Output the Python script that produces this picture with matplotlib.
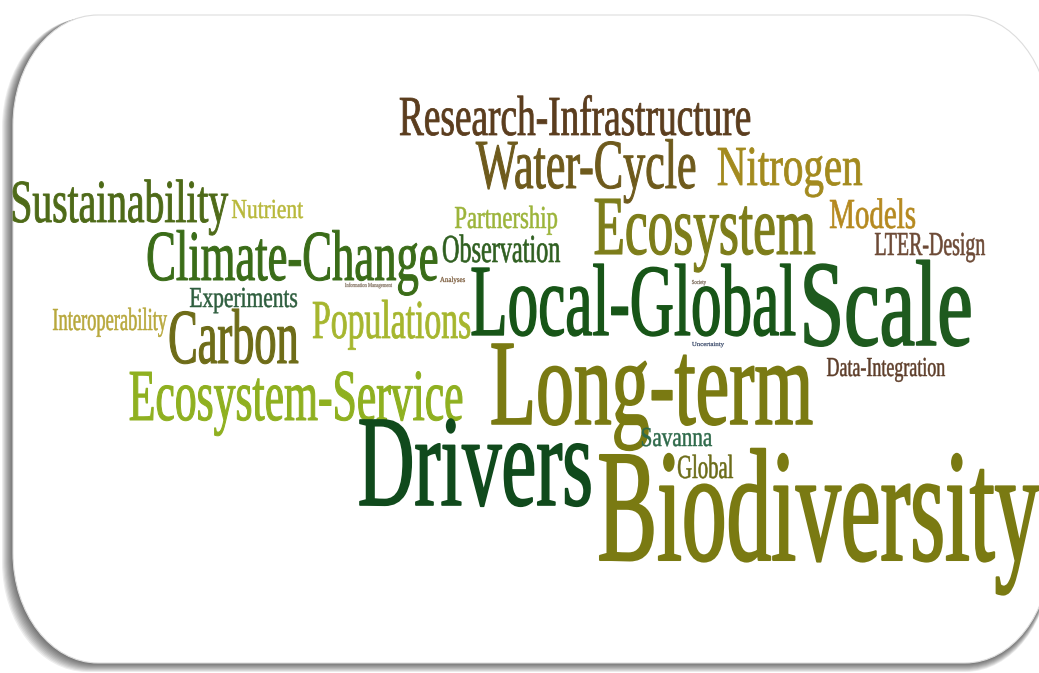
import matplotlib
matplotlib.use("Agg")
import matplotlib.pyplot as plt
from matplotlib.textpath import TextPath
from matplotlib.font_manager import FontProperties
from matplotlib.patches import PathPatch
from matplotlib.path import Path
from matplotlib.transforms import Affine2D

# ---- data: words and their weights (relative size) ----
words = ["Research-Infrastructure", "Water-Cycle", "Nitrogen", "Sustainability", "Nutrient",
         "Partnership", "Ecosystem", "Models", "LTER-Design", "Climate-Change",
         "Observation", "Local-Global", "Scale", "Experiments", "Information Management",
         "Analyses", "Interoperability", "Carbon", "Populations", "Society",
         "Uncertainty", "Data-Integration", "Ecosystem-Service", "Long-term", "Savanna",
         "Drivers", "Global", "Biodiversity"]
weights = [37, 46, 37, 40, 18,
           21, 55, 28, 22, 47,
           26, 67, 80, 19, 4,
           5, 21, 51, 36, 4,
           4, 18, 48, 80, 18,
           85, 22, 105]
colors = ["#5b3d1e", "#6e5a1c", "#a38a1e", "#4e6a18", "#b8b83a",
          "#9cb43a", "#7d7d1a", "#b5891f", "#6d4a36", "#3a6c18",
          "#2f5f20", "#175517", "#1e5a1e", "#2e5e3e", "#8a7a6a",
          "#7a5a3a", "#b8a83c", "#6e6c18", "#a6b62e", "#7a6a5a",
          "#3a4a6a", "#5e3e2a", "#8fb020", "#7a7a12", "#2e6a4a",
          "#104a1c", "#6c6c18", "#7a7a12"]

# ---- layout (left x, baseline y, right x) in pixel space ----
lefts = [400, 476, 718, 13, 232,
         455, 595, 830, 875, 148,
         443, 472, 805, 190, 345,
         440, 53, 170, 313, 692,
         692, 827, 130, 492, 642,
         360, 678, 600]
baselines = [135, 188, 185, 222, 218,
             228, 254, 228, 255, 280,
             262, 335, 345, 307, 287,
             282, 330, 363, 338, 284,
             346, 376, 420, 424, 446,
             505, 478, 560]
rights = [750, 695, 862, 228, 303,
          557, 815, 915, 985, 437,
          560, 795, 970, 297, 392,
          465, 167, 298, 470, 706,
          724, 945, 462, 812, 712,
          590, 733, 1039]

W, H = 1039, 673
fig = plt.figure(figsize=(W / 100, H / 100), dpi=100)
ax = fig.add_axes([0, 0, 1, 1])
ax.set_xlim(0, W)
ax.set_ylim(H, 0)
ax.axis("off")
fig.patch.set_facecolor("white")


def rounded_shape(x0, y0, x1, y1, rx, ry):
    k = 0.5523
    verts = [(x0 + rx, y0), (x1 - rx, y0),
             (x1 - rx + k * rx, y0), (x1, y0 + ry - k * ry), (x1, y0 + ry),
             (x1, y1 - ry),
             (x1, y1 - ry + k * ry), (x1 - rx + k * rx, y1), (x1 - rx, y1),
             (x0 + rx, y1),
             (x0 + rx - k * rx, y1), (x0, y1 - ry + k * ry), (x0, y1 - ry),
             (x0, y0 + ry),
             (x0, y0 + ry - k * ry), (x0 + rx - k * rx, y0), (x0 + rx, y0),
             (x0 + rx, y0)]
    codes = [Path.MOVETO, Path.LINETO,
             Path.CURVE4, Path.CURVE4, Path.CURVE4,
             Path.LINETO,
             Path.CURVE4, Path.CURVE4, Path.CURVE4,
             Path.LINETO,
             Path.CURVE4, Path.CURVE4, Path.CURVE4,
             Path.LINETO,
             Path.CURVE4, Path.CURVE4, Path.CURVE4,
             Path.CLOSEPOLY]
    return Path(verts, codes)


# shadow (soft, to the left and bottom)
for i in range(10):
    d = 10 - i
    sp = rounded_shape(13 - d * 1.1, 15 + d * 0.3, 1050, 663 + d * 0.9, 85, 110)
    ax.add_patch(PathPatch(sp, facecolor="#000000", edgecolor="none", alpha=0.07, zorder=1))
card = rounded_shape(13, 15, 1050, 663, 85, 110)
ax.add_patch(PathPatch(card, facecolor="white", edgecolor="#dddddd", lw=0.8, zorder=2))

prop = FontProperties(family="Liberation Serif")
cap_h = TextPath((0, 0), "H", size=1, prop=prop).get_extents().height

for w, s, c, x0, yb, x1 in zip(words, weights, colors, lefts, baselines, rights):
    tp = TextPath((0, 0), w, size=1, prop=prop)
    ext = tp.get_extents()
    sy = s / cap_h
    sx = (x1 - x0) / ext.width
    tr = Affine2D().translate(-ext.x0, 0).scale(sx, -sy).translate(x0, yb)
    lw = 0.013 * s + 0.1
    ax.add_patch(PathPatch(tr.transform_path(tp), facecolor=c, edgecolor=c,
                           lw=lw, joinstyle="round", zorder=3))

fig.savefig("out.png", dpi=100, facecolor="white")
